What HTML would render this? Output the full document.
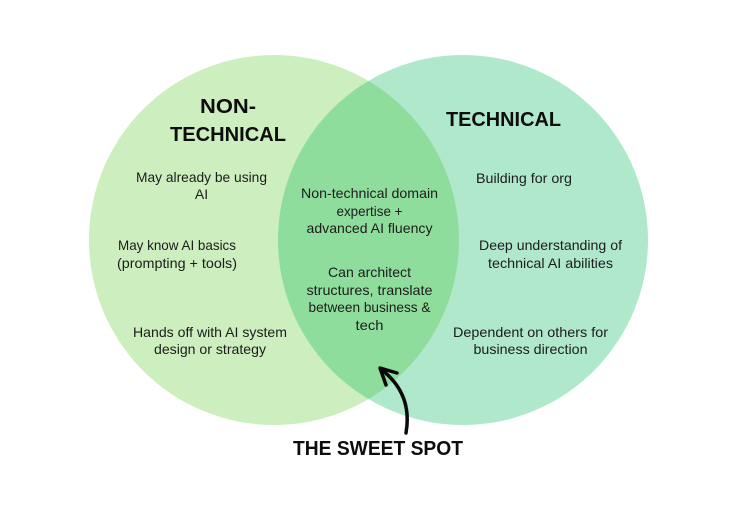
<!DOCTYPE html>
<html>
<head>
<meta charset="utf-8">
<style>
  html, body { margin:0; padding:0; background:#ffffff; }
  body { width:748px; height:514px; overflow:hidden; }
  svg { display:block; }
  .t { font-family:"Liberation Sans", "DejaVu Sans", sans-serif; font-size:14px; fill:#1c1c1c; text-anchor:middle; }
  .h { font-family:"Liberation Sans", "DejaVu Sans", sans-serif; font-size:20px; font-weight:bold; fill:#0d0d0d; text-anchor:middle; }
</style>
</head>
<body>
<svg width="748" height="514" viewBox="0 0 748 514" xmlns="http://www.w3.org/2000/svg">
  <defs>
    <clipPath id="lc"><circle cx="274" cy="240" r="185"/></clipPath>
  </defs>
  <rect width="748" height="514" fill="#ffffff"/>
  <circle cx="274" cy="240" r="185" fill="#cdeebe"/>
  <circle cx="463" cy="240" r="185" fill="#b0e8cc"/>
  <circle cx="463" cy="240" r="185" fill="#8fdd9d" clip-path="url(#lc)"/>

  <!-- Titles -->
  <text class="h" x="228" y="113" textLength="56" lengthAdjust="spacingAndGlyphs">NON-</text>
  <text class="h" x="228" y="141" textLength="116" lengthAdjust="spacingAndGlyphs">TECHNICAL</text>
  <text class="h" x="503.5" y="126" textLength="115" lengthAdjust="spacingAndGlyphs">TECHNICAL</text>

  <!-- Left -->
  <text class="t" x="201.5" y="182" textLength="131" lengthAdjust="spacingAndGlyphs">May already be using</text>
  <text class="t" x="201.5" y="199">AI</text>
  <text class="t" x="177" y="250" textLength="118" lengthAdjust="spacingAndGlyphs">May know AI basics</text>
  <text class="t" x="177" y="268" textLength="120" lengthAdjust="spacingAndGlyphs">(prompting + tools)</text>
  <text class="t" x="210" y="337" textLength="154" lengthAdjust="spacingAndGlyphs">Hands off with AI system</text>
  <text class="t" x="210" y="354" textLength="112" lengthAdjust="spacingAndGlyphs">design or strategy</text>

  <!-- Center -->
  <text class="t" x="369.5" y="198" textLength="137" lengthAdjust="spacingAndGlyphs">Non-technical domain</text>
  <text class="t" x="369.5" y="216" textLength="66" lengthAdjust="spacingAndGlyphs">expertise +</text>
  <text class="t" x="369.5" y="233" textLength="126" lengthAdjust="spacingAndGlyphs">advanced AI fluency</text>
  <text class="t" x="369.5" y="277" textLength="83" lengthAdjust="spacingAndGlyphs">Can architect</text>
  <text class="t" x="369.5" y="295" textLength="126" lengthAdjust="spacingAndGlyphs">structures, translate</text>
  <text class="t" x="369.5" y="312" textLength="122" lengthAdjust="spacingAndGlyphs">between business &amp;</text>
  <text class="t" x="369.5" y="330" textLength="28" lengthAdjust="spacingAndGlyphs">tech</text>

  <!-- Right -->
  <text class="t" x="524" y="183" textLength="96" lengthAdjust="spacingAndGlyphs">Building for org</text>
  <text class="t" x="550.5" y="250" textLength="143" lengthAdjust="spacingAndGlyphs">Deep understanding of</text>
  <text class="t" x="550.5" y="268" textLength="125" lengthAdjust="spacingAndGlyphs">technical AI abilities</text>
  <text class="t" x="530.5" y="337" textLength="155" lengthAdjust="spacingAndGlyphs">Dependent on others for</text>
  <text class="t" x="530.5" y="354" textLength="114" lengthAdjust="spacingAndGlyphs">business direction</text>

  <!-- Arrow -->
  <path d="M 406 433 C 410 410, 405 388, 382 370" fill="none" stroke="#0a0a0a" stroke-width="3.5" stroke-linecap="round"/>
  <path d="M 386 385 L 380 368 L 397 373" fill="none" stroke="#0a0a0a" stroke-width="3.5" stroke-linecap="round" stroke-linejoin="round"/>

  <!-- Sweet spot -->
  <text class="h" x="378" y="455" textLength="170" lengthAdjust="spacingAndGlyphs">THE SWEET SPOT</text>
</svg>
</body>
</html>
